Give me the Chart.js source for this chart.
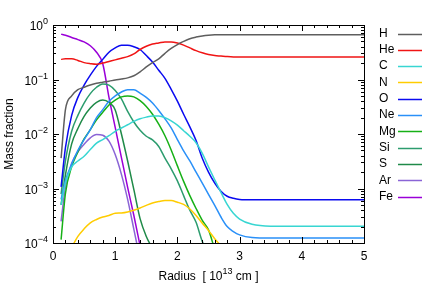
<!DOCTYPE html>
<html>
<head>
<meta charset="utf-8">
<script src="https://cdn.jsdelivr.net/npm/chart.js@4.4.1/dist/chart.umd.min.js"></script>
<style>
  html, body { margin: 0; padding: 0; background: #fff; }
  canvas { display: block; }
</style>
</head>
<body>
<canvas id="abundChart" width="436" height="305"></canvas>
<script>
// radius in units of 10^13 cm
var radius = [0.13, 0.2, 0.3, 0.4, 0.5, 0.6, 0.7, 0.8, 0.9, 1.0,
              1.1, 1.2, 1.3, 1.4, 1.5, 1.6, 1.7, 1.8, 1.9, 2.0,
              2.1, 2.2, 2.3, 2.4, 2.5, 2.6, 2.7, 2.8, 2.9, 3.0,
              3.2, 3.5, 4.0, 4.5, 5.0];

// mass fractions (series end where they leave the axis)
var H  = [3.6e-3, 2.8e-2, 5.0e-2, 6.5e-2, 7.2e-2, 7.9e-2, 8.5e-2, 8.9e-2, 9.3e-2, 9.8e-2,
          0.102, 0.107, 0.117, 0.138, 0.17, 0.204, 0.240, 0.302, 0.372, 0.437,
          0.50, 0.56, 0.60, 0.63, 0.65, 0.66, 0.66, 0.66, 0.66, 0.66,
          0.66, 0.66, 0.66, 0.66, 0.66];
var He = [0.234, 0.24, 0.24, 0.224, 0.204, 0.195, 0.19, 0.20, 0.214, 0.229,
          0.245, 0.263, 0.295, 0.355, 0.407, 0.447, 0.468, 0.49, 0.49, 0.468,
          0.427, 0.38, 0.339, 0.309, 0.288, 0.275, 0.269, 0.263, 0.26, 0.26,
          0.26, 0.26, 0.26, 0.26, 0.26];
var C  = [5.0e-4, 1.26e-3, 2.5e-3, 3.2e-3, 3.9e-3, 5.2e-3, 6.8e-3, 7.9e-3, 9.3e-3, 1.12e-2,
          1.29e-2, 1.48e-2, 1.7e-2, 1.9e-2, 2.04e-2, 2.14e-2, 2.14e-2, 2.0e-2, 1.74e-2, 1.45e-2,
          1.15e-2, 9.1e-3, 6.9e-3, 4.4e-3, 2.5e-3, 1.45e-3, 8.5e-4, 5.1e-4, 3.5e-4, 2.75e-4,
          2.2e-4, 2.04e-4, 2.04e-4, 2.04e-4, 2.04e-4];
var N  = [null, null, 8.3e-5, 1.32e-4, 1.82e-4, 2.34e-4, 2.7e-4, 3.0e-4, 3.2e-4, 3.5e-4,
          3.55e-4, 3.7e-4, 4.0e-4, 4.4e-4, 4.9e-4, 5.4e-4, 5.75e-4, 6.0e-4, 6.0e-4, 5.6e-4,
          5.1e-4, 4.2e-4, 3.2e-4, 2.3e-4, 1.7e-4, 1.2e-4, 8.9e-5];
var O  = [1.07e-3, 5.6e-3, 2.2e-2, 4.7e-2, 7.9e-2, 0.12, 0.174, 0.234, 0.316, 0.38,
          0.427, 0.427, 0.40, 0.355, 0.275, 0.209, 0.148, 0.105, 6.6e-2, 4.0e-2,
          2.3e-2, 1.35e-2, 7.6e-3, 3.6e-3, 2.0e-3, 1.26e-3, 8.9e-4, 7.2e-4, 6.6e-4, 6.3e-4,
          6.2e-4, 6.2e-4, 6.2e-4, 6.2e-4, 6.2e-4];
var Ne = [6.3e-4, 1.41e-3, 2.8e-3, 5.0e-3, 7.9e-3, 1.2e-2, 2.0e-2, 2.8e-2, 4.0e-2, 5.0e-2,
          5.9e-2, 6.5e-2, 6.5e-2, 5.6e-2, 4.7e-2, 3.7e-2, 2.7e-2, 1.9e-2, 1.29e-2, 7.9e-3,
          4.9e-3, 3.2e-3, 2.0e-3, 1.26e-3, 7.8e-4, 4.9e-4, 3.0e-4, 2.0e-4, 1.62e-4, 1.41e-4,
          1.26e-4, 1.23e-4, 1.23e-4, 1.23e-4, 1.23e-4];
var Mg = [1.15e-4, 8.1e-4, 2.5e-3, 4.7e-3, 8.1e-3, 1.2e-2, 1.82e-2, 2.5e-2, 3.4e-2, 4.2e-2,
          4.8e-2, 5.0e-2, 4.8e-2, 4.1e-2, 3.2e-2, 2.3e-2, 1.51e-2, 9.3e-3, 5.1e-3, 2.6e-3,
          1.35e-3, 7.4e-4, 4.3e-4, 2.6e-4, 1.74e-4, 7.6e-5];
var Si = [7.9e-4, 3.2e-3, 1.12e-2, 2.2e-2, 3.7e-2, 5.5e-2, 7.2e-2, 8.3e-2, 7.9e-2, 6.3e-2,
          4.4e-2, 2.6e-2, 1.66e-2, 1.17e-2, 9.1e-3, 7.8e-3, 5.9e-3, 3.6e-3, 2.3e-3, 1.38e-3,
          7.4e-4, 4.0e-4, 2.4e-4, 1.07e-4, 6.3e-5];
var S  = [5.0e-4, 1.78e-3, 6.6e-3, 1.26e-2, 2.1e-2, 3.0e-2, 3.8e-2, 4.2e-2, 3.8e-2, 2.75e-2,
          1.0e-2, 3.2e-3, 9.5e-4, 2.8e-4, 1.32e-4, 7.9e-5];
var Ar = [2.5e-4, 1.07e-3, 2.9e-3, 4.7e-3, 6.5e-3, 8.5e-3, 9.8e-3, 9.5e-3, 7.4e-3, 4.2e-3,
          1.82e-3, 6.3e-4, 1.78e-4, 5.0e-5];
var Fe = [0.68, 0.65, 0.59, 0.54, 0.49, 0.417, 0.316, 0.195, 4.7e-2, 1.32e-2,
          3.7e-3, 1.05e-3, 3.2e-4, 8.9e-5];

var species = ['H', 'He', 'C', 'N', 'O', 'Ne', 'Mg', 'Si', 'S', 'Ar', 'Fe'];
var fractions = [H, He, C, N, O, Ne, Mg, Si, S, Ar, Fe];
var colors = ['#5e5e5e', '#f01414', '#38d6d2', '#ffcc00', '#0a0af0', '#2a90f8',
              '#16b016', '#2c9c6e', '#1f8a48', '#8a64d6', '#9a00d8'];

var xTicks = [0, 1, 2, 3, 4, 5];
var yExponents = ['0', '\u22121', '\u22122', '\u22123', '\u22124'];
var yTicks = [1, 1e-1, 1e-2, 1e-3, 1e-4];

var FONT = '"Liberation Sans", Arial, Helvetica, sans-serif';

var datasets = species.map(function(name, i) {
  var pts = [];
  fractions[i].forEach(function(v, j) {
    pts.push({ x: radius[j], y: v });
  });
  return {
    label: name,
    data: pts,
    borderColor: colors[i],
    backgroundColor: colors[i],
    borderWidth: 1.5,
    pointRadius: 0,
    cubicInterpolationMode: 'monotone',
    clip: 0
  };
});

// gnuplot-like frame, ticks, labels and key
var framePlugin = {
  id: 'frame',
  afterDatasetsDraw: function(chart) {
    var ctx = chart.ctx;
    var a = chart.chartArea;
    var xs = chart.scales.x, ys = chart.scales.y;
    ctx.save();
    ctx.strokeStyle = '#000';
    ctx.lineWidth = 1;

    // x ticks (bottom and top)
    ctx.beginPath();
    for (var k = 0; k <= 25; k++) {
      var px = Math.round(xs.getPixelForValue(k * 0.2)) + 0.5;
      var len = (k % 5 === 0) ? 6 : 3;
      ctx.moveTo(px, a.bottom); ctx.lineTo(px, a.bottom - len);
      ctx.moveTo(px, a.top); ctx.lineTo(px, a.top + len);
    }
    // y ticks (left and right)
    for (var e = -4; e <= 0; e++) {
      for (var m = 1; m <= 9; m++) {
        var val = m * Math.pow(10, e);
        if (val > 1.0001) break;
        var py = Math.round(ys.getPixelForValue(val)) + 0.5;
        var l = (m === 1) ? 6 : 3;
        ctx.moveTo(a.left, py); ctx.lineTo(a.left + l, py);
        ctx.moveTo(a.right, py); ctx.lineTo(a.right - l, py);
      }
    }
    ctx.stroke();
    ctx.strokeRect(Math.round(a.left) + 0.5, Math.round(a.top) + 0.5,
                   Math.round(a.right - a.left), Math.round(a.bottom - a.top));

    ctx.fillStyle = '#000';
    // x tick labels
    ctx.font = '12px ' + FONT;
    ctx.textAlign = 'center';
    ctx.textBaseline = 'alphabetic';
    xTicks.forEach(function(v) {
      ctx.fillText(String(v), xs.getPixelForValue(v), 260);
    });

    // y tick labels 10^n
    yTicks.forEach(function(v, i) {
      var py = ys.getPixelForValue(v);
      ctx.font = '9px ' + FONT;
      ctx.textAlign = 'right';
      var ew = ctx.measureText(yExponents[i]).width;
      ctx.fillText(yExponents[i], 48, py - 1);
      ctx.font = '12px ' + FONT;
      ctx.fillText('10', 48 - ew, py + 5);
    });

    // x axis title
    ctx.textAlign = 'left';
    ctx.font = '12px ' + FONT;
    var t1 = 'Radius  [ 10', t2 = '13', t3 = ' cm ]';
    var w1 = ctx.measureText(t1).width, w3 = ctx.measureText(t3).width;
    ctx.font = '9px ' + FONT;
    var w2 = ctx.measureText(t2).width;
    var cx = (a.left + a.right) / 2;
    var x0 = cx - (w1 + w2 + w3) / 2;
    ctx.font = '12px ' + FONT;
    ctx.fillText(t1, x0, 280);
    ctx.fillText(t3, x0 + w1 + w2, 280);
    ctx.font = '9px ' + FONT;
    ctx.fillText(t2, x0 + w1, 274);

    // y axis title
    ctx.save();
    ctx.translate(13, (a.top + a.bottom) / 2);
    ctx.rotate(-Math.PI / 2);
    ctx.font = '12px ' + FONT;
    ctx.textAlign = 'center';
    ctx.fillText('Mass fraction', 0, 0);
    ctx.restore();

    // key
    ctx.font = '12px ' + FONT;
    ctx.textAlign = 'left';
    ctx.textBaseline = 'middle';
    chart.data.datasets.forEach(function(ds, i) {
      var y = 33.5 + i * 16.3;
      ctx.fillStyle = '#000';
      ctx.fillText(ds.label, 379, y);
      ctx.strokeStyle = ds.borderColor;
      ctx.lineWidth = 1.5;
      ctx.beginPath();
      ctx.moveTo(398, Math.round(y) + 0.5);
      ctx.lineTo(422, Math.round(y) + 0.5);
      ctx.stroke();
    });
    ctx.restore();
  }
};

var ctx = document.getElementById('abundChart').getContext('2d');
var chart = new Chart(ctx, {
  type: 'line',
  data: { datasets: datasets },
  options: {
    responsive: false,
    animation: false,
    layout: { padding: { left: 53, top: 25, right: 72, bottom: 62 } },
    plugins: { legend: { display: false }, tooltip: { enabled: false } },
    scales: {
      x: { type: 'linear', min: 0, max: 5, display: false },
      y: { type: 'logarithmic', min: 1e-4, max: 1, display: false }
    }
  },
  plugins: [framePlugin]
});
</script>
</body>
</html>
